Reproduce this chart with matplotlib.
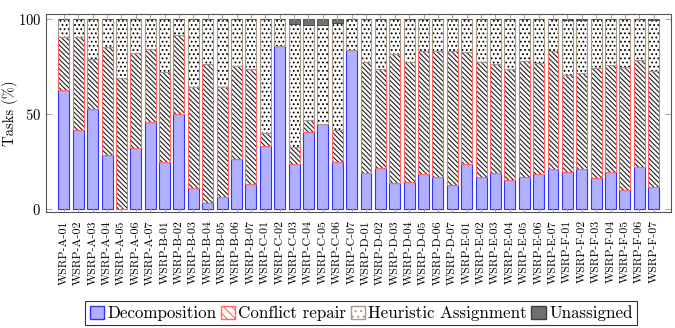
import numpy as np
import matplotlib
matplotlib.use("Agg")
import matplotlib.pyplot as plt
from matplotlib.patches import Patch

plt.rcParams["font.family"] = ["cmr10", "DejaVu Serif"]
plt.rcParams["axes.formatter.use_mathtext"] = True
plt.rcParams["hatch.linewidth"] = 0.8

instances = [f"WSRP-{g}-{i:02d}" for g in "ABCDEF" for i in range(1, 8)]

# percentage of tasks handled by each stage
decomposition = [62.5, 41.7, 52.6, 28.4, 0.0, 31.9, 46.0,
                 24.6, 49.8, 10.9, 3.2, 6.2, 26.1, 13.2,
                 33.3, 85.8, 23.9, 40.5, 44.7, 24.6, 83.5,
                 19.1, 21.6, 13.7, 14.4, 18.4, 16.7, 12.4,
                 23.7, 16.7, 19.1, 15.1, 16.8, 18.6, 21.2,
                 19.5, 20.9, 16.5, 19.6, 10.0, 22.3, 11.7]
conflict_repair = [27.9, 48.5, 26.2, 57.0, 69.1, 50.4, 38.4,
                   47.3, 41.8, 53.5, 73.3, 57.8, 49.2, 60.5,
                   6.9, 0.0, 8.7, 6.2, 0.0, 17.0, 0.0,
                   58.1, 52.1, 67.9, 62.8, 64.9, 66.6, 70.6,
                   59.1, 60.5, 57.0, 58.4, 61.1, 58.2, 61.8,
                   50.9, 50.8, 57.5, 56.0, 64.6, 56.1, 60.8]
unassigned = [0, 0, 0, 0, 0, 0, 0,
              0, 0, 0, 0, 0, 0, 0,
              0, 0, 2.8, 3.2, 3.2, 2.0, 0,
              0, 0, 0, 0, 0, 0, 0,
              0, 0, 0, 0, 0, 0, 0,
              0.6, 0.6, 0, 0, 0, 0, 0.6]

decomposition = np.array(decomposition)
conflict_repair = np.array(conflict_repair)
unassigned = np.array(unassigned)
heuristic = 100 - decomposition - conflict_repair - unassigned

x = np.arange(len(instances))
w = 0.76

fig = plt.figure(figsize=(6.75, 3.28), dpi=100)
ax = fig.add_axes([0.068, 0.354, 0.926, 0.603])

blue_face = "#b0b0ff"
blue_edge = "#3333ff"
red_edge = "#ff6666"
heur_edge = "#a89a88"
hatch_lines = "\\" * 7
hatch_dots = "...."

# Decomposition
ax.bar(x, decomposition, w, color=blue_face, edgecolor=blue_edge, linewidth=0.8)
# Conflict repair: black hatch, red outline
b1 = decomposition
ax.bar(x, conflict_repair, w, bottom=b1, color="white", edgecolor="#222222",
       hatch=hatch_lines, linewidth=0)
ax.bar(x, conflict_repair, w, bottom=b1, fill=False, edgecolor=red_edge,
       linewidth=0.8)
# Heuristic assignment: dots
b2 = b1 + conflict_repair
ax.bar(x, heuristic, w, bottom=b2, color="white", edgecolor="black",
       hatch=hatch_dots, linewidth=0)
ax.bar(x, heuristic, w, bottom=b2, fill=False, edgecolor=heur_edge,
       linewidth=0.8)
# Unassigned
b3 = b2 + heuristic
ax.bar(x, unassigned, w, bottom=b3, color="#707070", edgecolor="#404040",
       linewidth=0.6)

ax.set_xlim(-1.25, len(instances) - 1 + 1.2)
ax.set_ylim(-1.5, 102.5)
ax.set_yticks([0, 50, 100])
ax.set_xticks(x)
ax.set_xticklabels(instances, rotation=90, fontsize=8.6)
ax.tick_params(axis="y", labelsize=10.5, direction="in", right=True,
               color="#aaaaaa", length=4)
ax.tick_params(axis="x", direction="in", top=True, color="#aaaaaa",
               length=4, pad=6)
for s in ax.spines.values():
    s.set_color("#555555")
    s.set_linewidth(0.8)

ax.set_ylabel("Tasks (%)", fontsize=10.5)
ax.yaxis.set_label_coords(-0.045, 0.5)

handles = [
    Patch(facecolor=blue_face, edgecolor=blue_edge, label="Decomposition"),
    Patch(facecolor="white", edgecolor=red_edge, hatch="\\\\\\\\",
          label="Conflict repair"),
    Patch(facecolor="white", edgecolor=heur_edge, hatch="...",
          label="Heuristic Assignment"),
    Patch(facecolor="#707070", edgecolor="#404040", label="Unassigned"),
]
leg = fig.legend(handles=handles, loc="lower center", ncol=4,
                 bbox_to_anchor=(0.535, 0.0), fontsize=12.2, frameon=True,
                 fancybox=False, edgecolor="black", handlelength=0.85,
                 handleheight=0.85, handletextpad=0.2, columnspacing=0.25,
                 borderpad=0.25, borderaxespad=0.15)
leg.get_frame().set_linewidth(0.8)

fig.savefig("out.png", dpi=100)
